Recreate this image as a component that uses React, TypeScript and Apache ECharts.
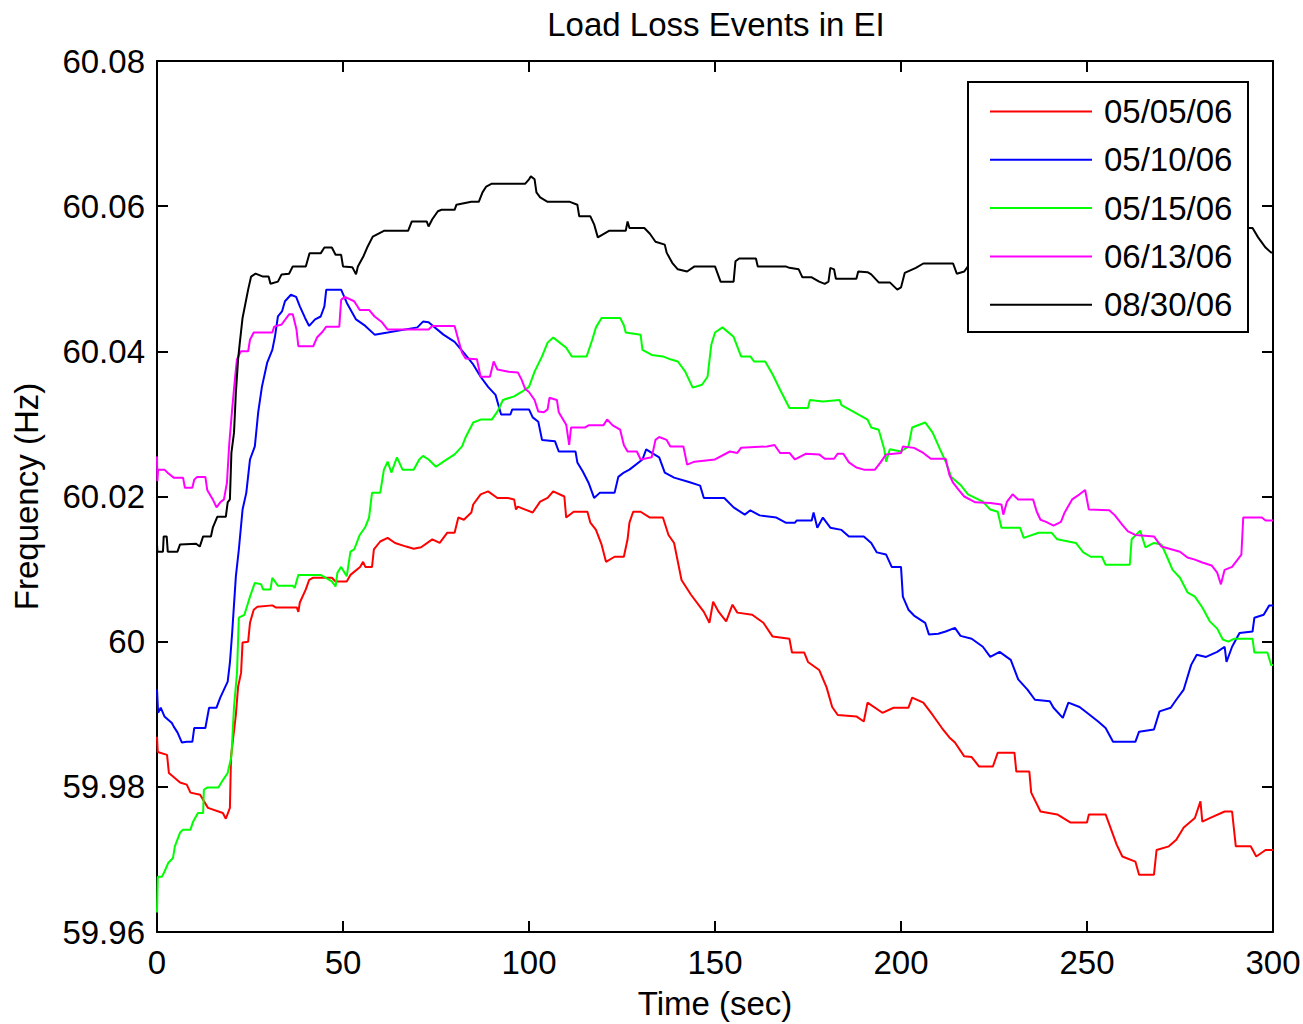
import React, { useEffect, useRef } from "react";
import * as echarts from "echarts";

const chartTitle = "Load Loss Events in EI";
const xAxisName = "Time (sec)";
const yAxisName = "Frequency (Hz)";
const seriesNames = ["05/05/06", "05/10/06", "05/15/06", "06/13/06", "08/30/06"];
const seriesColors = ["#ff0000", "#0000ff", "#00ff00", "#ff00ff", "#000000"];

const red0505: number[][] = [[0,59.9869],[0.2,59.9848],[2.7,59.9844],[3.2,59.9819],[6.2,59.9806],[8,59.9803],[9,59.9792],[11.6,59.9789],[13.7,59.9771],[17.7,59.9764],[18.5,59.9756],[19.6,59.9771],[19.9,59.9842],[21.2,59.9899],[21.8,59.9938],[22.6,59.9957],[23,59.9999],[24.5,60.0],[25,60.0026],[26,60.0044],[27,60.0048],[31,60.005],[32,60.0047],[37.6,60.0047],[38,60.0041],[38.4,60.0054],[40,60.0072],[40.9,60.0085],[41.9,60.0088],[47,60.0088],[48,60.0083],[51,60.0083],[52,60.0092],[54.6,60.0103],[55.4,60.011],[56,60.0103],[57.8,60.0103],[58.3,60.0127],[60,60.0138],[62,60.0143],[64,60.0136],[67,60.0131],[69,60.0128],[71,60.013],[74,60.0141],[76,60.0136],[78,60.015],[80,60.015],[81,60.0171],[82.5,60.0168],[84.5,60.0178],[85,60.0189],[87,60.0203],[89,60.0207],[91.5,60.0198],[94.3,60.0198],[96,60.0196],[96.5,60.0182],[97,60.0186],[99,60.0182],[101,60.0178],[103,60.0193],[105,60.0198],[106.5,60.0207],[109.5,60.02],[110,60.0171],[112,60.0179],[115.7,60.0179],[116.5,60.0164],[118,60.0154],[119.5,60.0134],[120.7,60.011],[123,60.0117],[125.5,60.0117],[126.5,60.0141],[127,60.0164],[128,60.0179],[130,60.0179],[132.5,60.0171],[136,60.0171],[137.5,60.0147],[139,60.0136],[141,60.0085],[143.5,60.0065],[147,60.0041],[148.5,60.0026],[149.5,60.0055],[151,60.0041],[153,60.0028],[154.7,60.0051],[156,60.004],[160,60.0037],[163,60.0026],[165.5,60.0007],[170,60.0004],[170.7,59.9985],[174,59.9985],[175,59.9972],[178,59.9961],[180,59.9937],[181.5,59.991],[183,59.9899],[188,59.9897],[190,59.989],[191,59.9916],[195,59.9902],[198,59.9909],[202,59.9909],[203,59.9923],[206,59.9916],[208.5,59.9899],[211,59.9881],[213,59.9868],[214.5,59.9861],[217,59.9842],[219,59.9841],[221,59.9828],[224.7,59.9828],[226,59.9847],[230.5,59.9847],[231,59.9821],[234.5,59.9821],[235,59.9792],[237.5,59.9766],[242,59.9762],[245.5,59.9751],[250,59.9751],[250.5,59.9762],[255,59.9762],[256.5,59.9741],[258,59.972],[259.5,59.9704],[263,59.9697],[264,59.9679],[268,59.9679],[268.7,59.9713],[272,59.9718],[274,59.9727],[276,59.9744],[279,59.9757],[280.5,59.978],[281,59.9752],[283,59.9757],[287,59.9766],[289,59.9766],[290,59.9718],[294,59.9718],[295.5,59.9704],[298,59.9713],[300,59.9713]];

const blue0510: number[][] = [[0,59.9934],[0.3,59.9902],[1,59.9909],[2,59.9897],[4,59.9888],[4.5,59.9883],[5.5,59.9875],[6.7,59.9861],[8,59.9862],[9.5,59.9862],[10,59.9881],[13,59.9881],[14,59.9909],[16,59.9909],[17,59.9923],[18,59.9934],[19,59.9945],[19.6,59.9971],[20.2,60.0012],[20.7,60.0051],[21.2,60.009],[22,60.0127],[23,60.0182],[24,60.0205],[25,60.0251],[26.3,60.0269],[27.2,60.0316],[28.2,60.0351],[29.6,60.0384],[31,60.0402],[31.7,60.042],[32.5,60.0448],[33.6,60.0455],[34.4,60.0469],[36,60.0478],[37.4,60.0475],[38.4,60.0462],[39.8,60.0446],[40.9,60.0435],[42.5,60.0444],[44,60.0448],[45,60.0462],[45.5,60.0485],[49.5,60.0485],[51,60.0467],[53.5,60.0444],[56,60.0435],[58.5,60.0423],[62,60.0426],[70,60.0433],[71.5,60.0441],[73,60.044],[77,60.0423],[80,60.0413],[82.5,60.0398],[85,60.0382],[87,60.0365],[89,60.0351],[91,60.034],[92.5,60.0313],[95,60.0313],[95.5,60.032],[100,60.032],[101,60.0309],[102.5,60.0303],[103.5,60.0278],[107,60.0276],[108,60.0262],[112.5,60.0262],[113,60.0247],[114.5,60.0234],[116,60.0219],[117.5,60.0198],[119,60.0205],[123,60.0205],[124,60.0227],[125.5,60.0233],[127,60.0237],[130.5,60.0251],[131.5,60.0265],[133,60.026],[135,60.0254],[136.5,60.0233],[139,60.0226],[143,60.022],[146,60.0215],[147,60.0198],[152.5,60.0198],[155,60.0185],[158,60.0175],[159.5,60.0181],[162,60.0174],[166.5,60.0171],[169,60.0164],[171.5,60.0164],[172,60.0167],[176,60.0167],[176.5,60.0178],[177.5,60.0157],[179,60.0171],[181,60.0157],[184,60.0154],[186,60.0145],[190,60.0145],[192,60.0136],[193.5,60.0123],[196,60.012],[197.5,60.0103],[200,60.0103],[200.5,60.0062],[202,60.0044],[203.5,60.0036],[206.5,60.0026],[207.5,60.001],[210,60.0011],[212,60.0014],[214.5,60.0019],[216,60.0008],[219,60.0004],[222,59.9993],[224,59.9979],[226.5,59.9986],[229.5,59.9975],[231.5,59.9948],[234,59.9934],[236,59.992],[240,59.9918],[241,59.9909],[243.5,59.9895],[245,59.9916],[248,59.991],[250,59.9902],[253,59.989],[255,59.9881],[257,59.9862],[263,59.9862],[264,59.9876],[268,59.9879],[269.5,59.9904],[272.5,59.9909],[274,59.992],[276,59.9934],[278,59.9968],[279.5,59.9982],[282,59.9979],[285,59.9986],[287,59.9993],[287.5,59.9972],[289,59.9993],[291,60.0012],[294.5,60.0014],[295,60.0033],[297.5,60.0037],[299,60.005],[300,60.005]];

const green0515: number[][] = [[0,59.9627],[0.2,59.9676],[1.3,59.9676],[2,59.9683],[3,59.9695],[4.3,59.9702],[4.8,59.9718],[6.2,59.9737],[7,59.9741],[9,59.9741],[9.7,59.9752],[11,59.9764],[12.4,59.9764],[12.6,59.9796],[13.5,59.9799],[16.5,59.9799],[17.8,59.981],[19,59.9819],[20,59.9842],[20.7,59.991],[21.5,59.9957],[22,60.0033],[23.5,60.0037],[25,60.0062],[26.3,60.0081],[28,60.0079],[28.5,60.0072],[30.5,60.0072],[31,60.0088],[32.5,60.0077],[36.5,60.0077],[37,60.0074],[38,60.0092],[44,60.0092],[47,60.0083],[48,60.0076],[48.5,60.0095],[49.5,60.0103],[51,60.009],[52,60.0124],[53,60.0127],[54.5,60.0147],[56,60.0158],[57,60.0171],[57.8,60.0205],[60,60.0205],[61,60.0237],[62,60.0248],[63,60.0233],[64.5,60.0254],[66,60.0237],[69,60.0237],[70.5,60.0251],[71.5,60.0256],[73,60.0251],[75,60.0241],[77,60.0248],[80,60.0258],[82,60.0269],[83,60.0282],[85,60.0302],[87,60.0306],[90,60.0306],[91.5,60.0317],[93,60.0333],[96,60.0338],[98,60.0344],[100,60.0351],[101.5,60.0372],[103.5,60.0393],[105,60.0412],[106.5,60.0419],[108,60.0413],[110,60.0405],[111.5,60.0393],[115.5,60.0393],[117,60.0416],[118,60.0433],[119.5,60.0446],[124.5,60.0446],[125.5,60.0436],[126,60.0426],[130,60.0423],[130.5,60.0402],[133,60.0395],[136,60.0393],[138,60.0389],[140,60.0386],[142,60.0372],[144,60.035],[146.5,60.0354],[148,60.0365],[149,60.0409],[150,60.0426],[152,60.0433],[155,60.042],[157,60.0393],[159.5,60.0393],[160.5,60.0386],[163.5,60.0386],[165.5,60.0368],[167.5,60.0347],[170,60.0322],[175,60.0322],[175.5,60.0333],[179,60.0331],[183.5,60.0333],[184,60.0326],[188.5,60.0313],[191,60.0306],[192,60.0295],[194,60.0292],[195.5,60.0265],[196,60.0248],[197,60.0265],[200,60.0262],[202,60.0269],[203,60.0295],[206.5,60.0302],[208.5,60.0288],[210.5,60.0265],[212,60.0248],[213.5,60.0227],[216,60.0216],[218,60.0203],[222,60.0193],[224,60.0182],[226,60.0179],[227,60.0157],[232,60.0157],[233,60.0143],[237,60.015],[240.5,60.015],[242,60.0141],[247,60.0136],[249,60.0123],[251,60.0117],[254,60.0117],[255,60.0106],[261.5,60.0106],[262,60.0141],[264.3,60.0153],[265.7,60.013],[268,60.0136],[270,60.0134],[271.5,60.0117],[273,60.0099],[275,60.0088],[277,60.0068],[279,60.0062],[281,60.0047],[283,60.0028],[285,60.0018],[286.5,60.0003],[288,60.0],[289.5,60.0004],[294.5,60.0004],[295,59.9985],[298.5,59.9985],[299.5,59.9968],[300,59.9968]];

const magenta0613: number[][] = [[0,60.0255],[0.1,60.0221],[0.3,60.0237],[2,60.0237],[3,60.0232],[4.5,60.0226],[7,60.0226],[7.5,60.0212],[9.5,60.0212],[10,60.0223],[10.8,60.0227],[13,60.0227],[13.5,60.0209],[15,60.0196],[16,60.0185],[17,60.0192],[18,60.0196],[18.8,60.0219],[19.4,60.0271],[20.2,60.032],[21,60.0365],[21.5,60.0389],[22.5,60.04],[24.5,60.04],[25,60.0416],[26,60.0426],[31,60.0426],[31.5,60.0434],[33.5,60.0437],[35.5,60.0451],[36.5,60.0451],[37.5,60.043],[38,60.0407],[42,60.0407],[43,60.0419],[44.5,60.0427],[45.5,60.0434],[49,60.0434],[49.5,60.0471],[50.5,60.0475],[53,60.0469],[54.5,60.0457],[57,60.0457],[58.5,60.0448],[60.5,60.044],[62,60.043],[73,60.043],[74,60.0435],[80,60.0435],[81,60.0416],[82,60.0398],[83,60.039],[86,60.0389],[87,60.0365],[89.5,60.0365],[90.5,60.0386],[91.5,60.0375],[94.5,60.0372],[97,60.0371],[98,60.0361],[99,60.0348],[100,60.0344],[101.5,60.0333],[102.5,60.0317],[104,60.0316],[105,60.032],[105.5,60.0336],[107.5,60.0333],[108,60.0316],[110,60.0299],[110.8,60.0271],[111.3,60.0295],[115,60.0295],[116,60.0298],[120,60.0298],[121,60.0306],[122.5,60.0298],[124.5,60.0292],[125.5,60.0271],[126.5,60.0262],[129,60.0262],[130,60.0251],[133,60.0254],[134,60.0278],[135,60.0282],[137,60.0278],[138,60.0269],[141.5,60.0269],[142.5,60.0244],[144.5,60.0248],[150,60.0251],[154,60.0262],[156,60.026],[157,60.0267],[164,60.0269],[166,60.0271],[167.5,60.026],[170,60.026],[171.5,60.0251],[174.5,60.0259],[178,60.0258],[179.5,60.0252],[182,60.0252],[183,60.0259],[184.5,60.0259],[186,60.0247],[188,60.024],[190,60.0237],[193,60.0237],[194.5,60.0247],[196,60.0258],[200,60.026],[200.5,60.0269],[203.5,60.0267],[206,60.026],[208,60.0252],[212,60.0252],[213,60.023],[214,60.0219],[215.5,60.0209],[217,60.02],[220,60.0192],[224,60.0191],[227,60.0189],[227.5,60.0175],[228.5,60.0193],[230,60.0203],[231.5,60.0196],[235.5,60.0196],[236.5,60.0179],[237.5,60.0168],[239,60.0165],[241,60.016],[243,60.0165],[244,60.0178],[246,60.0196],[248,60.0203],[249.5,60.0209],[250.5,60.0182],[256,60.0181],[257.5,60.0174],[259.5,60.0161],[261,60.0152],[263,60.0147],[268,60.0145],[270,60.0131],[275,60.0124],[277,60.0116],[279,60.0113],[281,60.0109],[283.5,60.0105],[285,60.0095],[286,60.0079],[287,60.0099],[289,60.0103],[291.5,60.012],[292,60.0171],[297,60.0171],[298,60.0167],[300,60.0167]];

const black0830: number[][] = [[0,60.0134],[0.1,60.0124],[1.6,60.0124],[1.8,60.0145],[2.6,60.0145],[2.9,60.0124],[5.5,60.0124],[6.2,60.0134],[10.5,60.0135],[11.5,60.0131],[12.4,60.0145],[14.5,60.0145],[15,60.0157],[16.2,60.0172],[18.5,60.0172],[19,60.0192],[19.6,60.0196],[20,60.026],[20.7,60.0288],[21.2,60.0343],[21.8,60.0389],[22.2,60.0409],[23,60.0446],[24.5,60.0485],[25.3,60.0503],[26.5,60.0507],[28.5,60.0503],[30,60.0503],[30.5,60.0493],[32.5,60.0496],[33.5,60.0506],[35.5,60.0507],[36.5,60.0517],[40,60.0517],[41,60.0535],[44,60.0535],[45,60.0543],[47,60.0543],[48,60.0533],[49.5,60.0533],[50,60.0517],[52.5,60.0516],[53.5,60.0506],[54,60.0517],[55.5,60.0531],[56.5,60.0543],[58,60.0558],[61,60.0566],[67.5,60.0566],[68.5,60.0579],[72.5,60.0579],[73,60.0572],[74,60.0582],[75.5,60.0593],[76.5,60.0595],[80,60.0595],[80.5,60.0602],[84.5,60.0606],[86.5,60.0606],[87.5,60.0619],[88.5,60.0627],[90,60.0631],[99,60.0631],[100,60.0637],[100.5,60.0641],[101.5,60.0637],[102,60.0619],[103,60.0612],[105,60.0606],[111,60.0606],[113,60.0602],[113.5,60.0586],[116.5,60.0586],[117.5,60.0575],[118.5,60.0557],[121.5,60.0566],[126,60.0566],[126.5,60.0579],[127,60.057],[131,60.057],[132.5,60.0562],[134,60.0551],[136.5,60.0547],[137,60.0536],[138.5,60.0522],[140,60.0513],[142.5,60.051],[144.5,60.0517],[150,60.0517],[151.5,60.0496],[155,60.0496],[155.5,60.0524],[156.5,60.0528],[161,60.0528],[161.5,60.0517],[169,60.0517],[170,60.0515],[172.5,60.0513],[173.5,60.0502],[176,60.0502],[178,60.0496],[179.5,60.0493],[180.5,60.0496],[181,60.0515],[182,60.0513],[182.5,60.05],[188,60.05],[188.5,60.051],[191,60.0509],[192,60.0506],[194,60.0495],[197,60.0495],[199,60.0485],[200,60.0488],[201,60.0508],[204,60.0515],[206,60.0521],[214,60.0521],[215,60.0507],[217,60.051],[218,60.0517],[225,60.0525],[245,60.0545],[265,60.056],[285,60.0572],[293,60.057],[294.5,60.057],[296,60.0557],[298,60.0543],[299.5,60.0536],[300,60.0536]];

const xTicks = { min: 0, max: 300, interval: 50 };
const yTicks = { min: 59.96, max: 60.08, interval: 0.02 };

const allSeries = [red0505, blue0510, green0515, magenta0613, black0830];

const FONT = "'Liberation Sans', Arial, Helvetica, sans-serif";
const FS = 33;

export default function App() {
  const ref = useRef<HTMLDivElement>(null);
  useEffect(() => {
    if (!ref.current) return;
    const chart = echarts.init(ref.current, null, { renderer: "svg" });
    const yFmt = (v: number) => (Math.abs(v - 60) < 1e-9 ? "60" : v.toFixed(2));
    const axisCommon = {
      axisLine: { show: true, onZero: false, lineStyle: { color: "#000", width: 2 } },
      axisTick: { show: true, inside: true, length: 11, lineStyle: { color: "#000", width: 2 } },
      splitLine: { show: false },
    };
    chart.setOption({
      animation: false,
      backgroundColor: "#fff",
      title: {
        text: chartTitle,
        left: 711,
        textAlign: "center",
        top: 3,
        textStyle: { fontFamily: FONT, fontSize: FS, fontWeight: "normal", color: "#000" },
      },
      grid: {
        left: 157,
        top: 61,
        width: 1116,
        height: 871,
        containLabel: false,
        outerBoundsMode: "none",
      },
      xAxis: [
        {
          type: "value",
          min: xTicks.min,
          max: xTicks.max,
          interval: xTicks.interval,
          position: "bottom",
          name: xAxisName,
          nameLocation: "middle",
          nameGap: 55,
          nameTextStyle: { fontFamily: FONT, fontSize: FS, color: "#000" },
          axisLabel: { fontFamily: FONT, fontSize: FS, color: "#000", margin: 14 },
          ...axisCommon,
        },
        {
          type: "value",
          min: xTicks.min,
          max: xTicks.max,
          interval: xTicks.interval,
          position: "top",
          axisLabel: { show: false },
          ...axisCommon,
        },
      ],
      yAxis: [
        {
          type: "value",
          min: yTicks.min,
          max: yTicks.max,
          interval: yTicks.interval,
          position: "left",
          name: yAxisName,
          nameLocation: "middle",
          nameGap: 114,
          nameTextStyle: { fontFamily: FONT, fontSize: FS, color: "#000" },
          axisLabel: { fontFamily: FONT, fontSize: FS, color: "#000", margin: 12, formatter: yFmt },
          ...axisCommon,
        },
        {
          type: "value",
          min: yTicks.min,
          max: yTicks.max,
          interval: yTicks.interval,
          position: "right",
          axisLabel: { show: false },
          ...axisCommon,
        },
      ],
      legend: {
        orient: "vertical",
        left: 990,
        top: 95,
        padding: 0,
        itemWidth: 102,
        itemHeight: 2,
        itemGap: 15.3,
        icon: "rect",
        z: 5,
        data: seriesNames,
        textStyle: { fontFamily: FONT, fontSize: FS, color: "#000", padding: [0, 0, 0, 7] },
      },
      graphic: [
        {
          type: "rect",
          z: 3,
          shape: { x: 968, y: 82, width: 280, height: 250 },
          style: { fill: "#fff", stroke: "#000", lineWidth: 2 },
        },
      ],
      series: allSeries.map((d, i) => ({
        name: seriesNames[i],
        type: "line",
        data: d,
        showSymbol: false,
        symbol: "none",
        color: seriesColors[i],
        lineStyle: { color: seriesColors[i], width: 2 },
        itemStyle: { color: seriesColors[i] },
        z: 2,
        silent: true,
      })),
    });
    return () => chart.dispose();
  }, []);
  return (
    <div
      ref={ref}
      style={{ position: "absolute", left: 0, top: 0, width: 1303, height: 1024 }}
    />
  );
}
